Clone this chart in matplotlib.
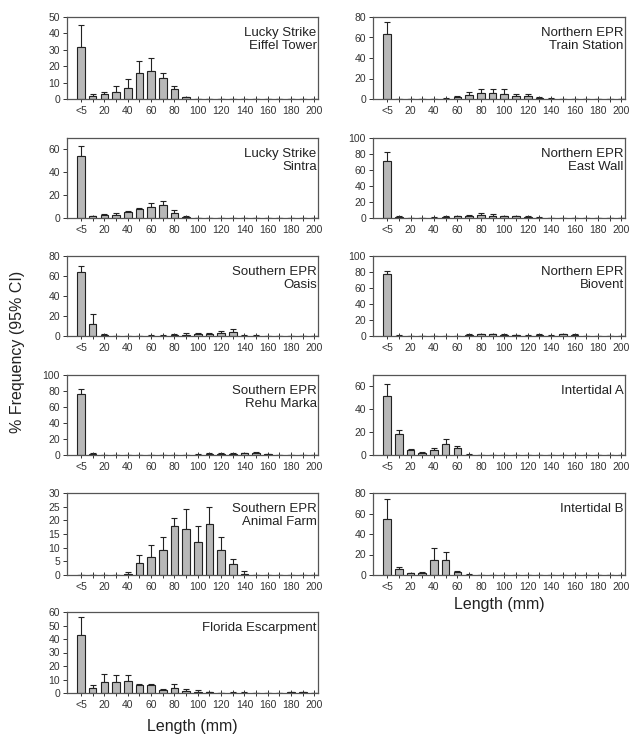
import matplotlib
matplotlib.use("Agg")
import matplotlib.pyplot as plt
import numpy as np

plt.rcParams['font.family'] = ['Liberation Sans', 'DejaVu Sans']

categories = ["<5"] + [str(v) for v in range(10, 201, 10)]
tick_labels = ["<5"] + [str(v) for v in range(20, 201, 20)]

# values (%), upper CI limits (%)
eiffel_val = [32, 2, 3, 4, 7, 16, 17, 13, 6, 1, 0, 0, 0, 0, 0, 0, 0, 0, 0, 0, 0]
eiffel_up = [45, 3, 4, 8, 12, 23, 25, 16, 8, 1.5, 0, 0, 0, 0, 0, 0, 0, 0, 0, 0, 0]

train_val = [63, 0, 0, 0, 0, 0.3, 2, 4, 6, 6, 5, 3, 3, 1, 0.3, 0, 0, 0, 0, 0, 0]
train_up = [75, 0, 0, 0, 0, 0.6, 3, 7, 10, 10, 10, 5, 5, 2, 0.6, 0, 0, 0, 0, 0, 0]

sintra_val = [54, 1.5, 2.5, 3, 5, 8, 10, 11, 4, 1, 0, 0, 0, 0, 0, 0, 0, 0, 0, 0, 0]
sintra_up = [63, 2, 3.5, 4, 6, 9, 13, 15, 7, 1.5, 0, 0, 0, 0, 0, 0, 0, 0, 0, 0, 0]

eastwall_val = [71, 1, 0.3, 0.3, 0.5, 1, 2, 3, 4, 3, 2, 2, 1, 0.5, 0, 0, 0, 0, 0, 0, 0]
eastwall_up = [82, 2, 0.6, 0.6, 1, 2, 3, 4, 6, 5, 3, 3, 2, 1, 0, 0, 0, 0, 0, 0, 0]

oasis_val = [64, 12, 1, 0, 0, 0, 0.3, 0.5, 1, 1.5, 2, 2, 3, 4, 0.5, 0.3, 0, 0, 0, 0, 0]
oasis_up = [70, 22, 2, 0, 0, 0, 0.6, 1, 2, 3, 3, 3, 5, 7, 1, 0.6, 0, 0, 0, 0, 0]

biovent_val = [77, 0.5, 0, 0, 0, 0, 0, 1, 2, 2, 1, 1, 0.5, 1, 0.5, 2, 1.5, 0, 0, 0, 0]
biovent_up = [81, 1, 0, 0, 0, 0, 0, 2, 3, 3, 2, 1.5, 1, 2, 1, 3, 2.5, 0, 0, 0, 0]

rehu_val = [76, 1, 0, 0, 0, 0, 0, 0, 0.3, 0.3, 0.5, 1, 1.5, 1.5, 2, 2, 1, 0, 0, 0, 0]
rehu_up = [82, 2, 0, 0, 0, 0, 0, 0, 0.6, 0.6, 1, 2, 2.5, 2.5, 3, 3.5, 1.5, 0, 0, 0, 0]

intA_val = [52, 18, 4, 2, 4, 10, 6, 0.3, 0, 0, 0, 0, 0, 0, 0, 0, 0, 0, 0, 0, 0]
intA_up = [62, 22, 5, 3, 6, 14, 8, 0.6, 0, 0, 0, 0, 0, 0, 0, 0, 0, 0, 0, 0, 0]

animal_val = [0, 0, 0, 0, 0.5, 4.5, 6.5, 9, 18, 17, 12, 18.5, 9, 4, 0.5, 0, 0, 0, 0, 0, 0]
animal_up = [0, 0, 0, 0, 1, 7.5, 11, 14, 21, 24, 18, 25, 14, 6, 1.5, 0, 0, 0, 0, 0, 0]

intB_val = [55, 6, 1.5, 2, 15, 15, 3, 0.3, 0, 0, 0, 0, 0, 0, 0, 0, 0, 0, 0, 0, 0]
intB_up = [74, 8, 2, 3, 26, 22, 4, 0.6, 0, 0, 0, 0, 0, 0, 0, 0, 0, 0, 0, 0, 0]

florida_val = [43, 4, 8, 8, 9, 6, 6, 2, 4, 1.5, 1, 0.5, 0, 0.3, 0.3, 0, 0, 0, 0.5, 0.5, 0]
florida_up = [56, 6, 14, 13, 13, 7, 7, 3, 7, 3, 2, 1, 0, 0.6, 0.6, 0, 0, 0, 1, 1, 0]

panels = [
    # (title, values, upper, ymax, ystep, column, row)
    ("Lucky Strike\nEiffel Tower", eiffel_val, eiffel_up, 50, 10, 0, 0),
    ("Lucky Strike\nSintra", sintra_val, sintra_up, 70, 20, 0, 1),
    ("Southern EPR\nOasis", oasis_val, oasis_up, 80, 20, 0, 2),
    ("Southern EPR\nRehu Marka", rehu_val, rehu_up, 100, 20, 0, 3),
    ("Southern EPR\nAnimal Farm", animal_val, animal_up, 30, 5, 0, 4),
    ("Florida Escarpment", florida_val, florida_up, 60, 10, 0, 5),
    ("Northern EPR\nTrain Station", train_val, train_up, 80, 20, 1, 0),
    ("Northern EPR\nEast Wall", eastwall_val, eastwall_up, 100, 20, 1, 1),
    ("Northern EPR\nBiovent", biovent_val, biovent_up, 100, 20, 1, 2),
    ("Intertidal A", intA_val, intA_up, 70, 20, 1, 3),
    ("Intertidal B", intB_val, intB_up, 80, 20, 1, 4),
]

W, H = 637, 738
fig = plt.figure(figsize=(W / 100, H / 100), dpi=100)

col_x = [(67, 318), (373, 625)]
row_y = [(17, 99), (138, 218), (256, 336), (375, 455), (493, 575), (612, 693)]

x = np.arange(len(categories))
for title, vals, ups, ymax, ystep, c, r in panels:
    x0, x1 = col_x[c]
    y0, y1 = row_y[r]
    ax = fig.add_axes([x0 / W, 1 - y1 / H, (x1 - x0) / W, (y1 - y0) / H])
    vals = np.array(vals, float)
    ups = np.array(ups, float)
    err = np.clip(ups - vals, 0, None)
    ax.errorbar(x, vals, yerr=[np.zeros_like(err), err], fmt='none',
                ecolor='#222222', elinewidth=0.8, capsize=2, capthick=0.8, zorder=1)
    ax.bar(x, vals, width=0.65, color='#b8b8b8', edgecolor='#222222',
           linewidth=0.8, zorder=2)
    ax.set_xlim(-1.2, 20.3)
    ax.set_ylim(0, ymax)
    ax.set_yticks(np.arange(0, ymax + 0.01, ystep))
    ax.set_xticks(x)
    ax.set_xticklabels([lab if i % 2 == 0 else "" for i, lab in enumerate(categories)])
    ax.tick_params(axis='x', direction='inout', length=4, width=0.7,
                   labelsize=7.5, colors='#333333', pad=3)
    ax.tick_params(axis='y', direction='out', length=3, width=0.7,
                   labelsize=7.5, colors='#333333', pad=2)
    for s in ax.spines.values():
        s.set_color('#555555')
        s.set_linewidth(0.9)
    ax.text(0.995, 0.88, title, transform=ax.transAxes, ha='right', va='top',
            fontsize=9.5, color='#222222', linespacing=1.15)

fig.text(18 / W, 1 - 352 / H, "% Frequency (95% CI)", rotation=90,
         ha='center', va='center', fontsize=11.5, color='#222222')
fig.text((67 + 318) / 2 / W, 1 - 727 / H, "Length (mm)", ha='center',
         va='center', fontsize=11.5, color='#222222')
fig.text((373 + 625) / 2 / W, 1 - 604 / H, "Length (mm)", ha='center',
         va='center', fontsize=11.5, color='#222222')

fig.savefig("out.png", dpi=100)
